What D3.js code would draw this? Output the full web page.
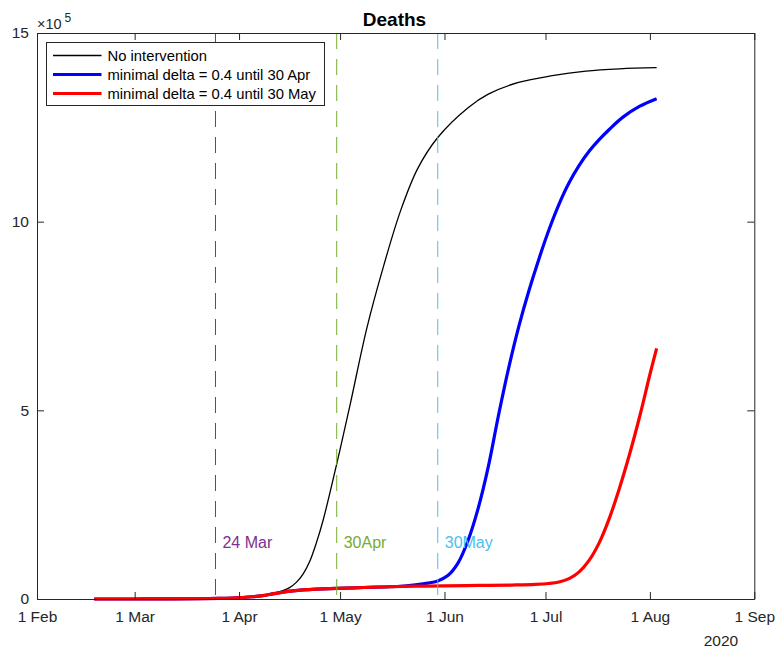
<!DOCTYPE html>
<html>
<head>
<meta charset="utf-8">
<script src="https://cdn.jsdelivr.net/npm/d3@7"></script>
<style>
  html, body { margin: 0; padding: 0; background: #ffffff; }
  svg { display: block; font-family: "Liberation Sans", Arial, Helvetica, sans-serif; }
</style>
</head>
<body>
<svg id="chart" width="778" height="648"></svg>
<script>
// ---------------- DATA (values in units of 10^5 deaths) ----------------
const xTickDates = ["2020-02-01","2020-03-01","2020-04-01","2020-05-01","2020-06-01","2020-07-01","2020-08-01","2020-09-01"];
const yTickValues = [0, 5, 10, 15];
const yExponentLabel = "5";
const yearLabel = "2020";
const chartTitle = "Deaths";

const seriesNames = ["No intervention", "minimal delta = 0.4 until 30 Apr", "minimal delta = 0.4 until 30 May"];
const seriesColors = ["#000000", "#0000ff", "#ff0000"];

const noInterventionDates = ["2020-02-18","2020-03-01","2020-03-12","2020-03-20","2020-03-26","2020-03-30","2020-04-02","2020-04-05","2020-04-08","2020-04-11","2020-04-14","2020-04-16","2020-04-18","2020-04-20","2020-04-22","2020-04-24","2020-04-26","2020-04-30","2020-05-04","2020-05-09","2020-05-14","2020-05-19","2020-05-24","2020-05-30","2020-06-08","2020-06-14","2020-06-23","2020-07-03","2020-07-13","2020-07-23","2020-08-03"];
const noInterventionValues = [0, 0.0005, 0.002, 0.006, 0.014, 0.025, 0.04, 0.06, 0.09, 0.15, 0.22, 0.3, 0.44, 0.66, 1.0, 1.5, 2.1, 3.58, 5.16, 7.2, 8.85, 10.3, 11.4, 12.23, 13.02, 13.38, 13.69, 13.87, 13.99, 14.05, 14.08];

const until30AprDates = ["2020-02-18","2020-03-01","2020-03-12","2020-03-20","2020-03-26","2020-03-30","2020-04-02","2020-04-05","2020-04-08","2020-04-11","2020-04-14","2020-04-17","2020-04-20","2020-04-24","2020-04-30","2020-05-08","2020-05-16","2020-05-20","2020-05-24","2020-05-27","2020-05-30","2020-06-02","2020-06-05","2020-06-08","2020-06-11","2020-06-14","2020-06-17","2020-06-20","2020-06-23","2020-06-26","2020-06-29","2020-07-02","2020-07-05","2020-07-08","2020-07-11","2020-07-14","2020-07-17","2020-07-20","2020-07-24","2020-07-29","2020-08-03"];
const until30AprValues = [0, 0.0005, 0.002, 0.006, 0.014, 0.025, 0.04, 0.06, 0.09, 0.135, 0.18, 0.215, 0.24, 0.26, 0.28, 0.305, 0.325, 0.345, 0.38, 0.42, 0.48, 0.62, 0.95, 1.55, 2.4, 3.5, 4.85, 6.1, 7.2, 8.15, 9.0, 9.78, 10.46, 11.03, 11.49, 11.87, 12.18, 12.45, 12.77, 13.06, 13.26];

const until30MayDates = ["2020-02-18","2020-03-01","2020-03-12","2020-03-20","2020-03-26","2020-03-30","2020-04-02","2020-04-05","2020-04-08","2020-04-11","2020-04-14","2020-04-17","2020-04-20","2020-04-24","2020-04-30","2020-05-08","2020-05-16","2020-05-24","2020-06-01","2020-06-11","2020-06-21","2020-06-28","2020-07-02","2020-07-05","2020-07-08","2020-07-11","2020-07-14","2020-07-17","2020-07-20","2020-07-23","2020-07-26","2020-07-29","2020-08-01","2020-08-03"];
const until30MayValues = [0, 0.0005, 0.002, 0.006, 0.014, 0.025, 0.04, 0.06, 0.09, 0.135, 0.18, 0.215, 0.24, 0.26, 0.28, 0.305, 0.325, 0.34, 0.35, 0.36, 0.37, 0.385, 0.41, 0.45, 0.54, 0.72, 1.03, 1.5, 2.15, 2.95, 3.85, 4.85, 5.95, 6.64];

const markerDates = ["2020-03-25", "2020-04-30", "2020-05-30"];
const markerLabels = ["24 Mar", "30Apr", "30May"];
const markerColors = ["#7e2f8e", "#77ac30", "#4dbeee"];
const markerLabelValue = 1.48;

// ---------------- LAYOUT ----------------
const parse = d3.timeParse("%Y-%m-%d");
const svg = d3.select("#chart");
const mLeft = 37, mRight = 754.3, mTop = 33, mBottom = 599;
const axisColor = "#262626";

const x = d3.scaleTime()
  .domain([parse(xTickDates[0]), parse(xTickDates[xTickDates.length - 1])])
  .range([mLeft, mRight]);
const y = d3.scaleLinear().domain([0, 15]).range([mBottom, mTop]);

svg.append("rect").attr("x", 0).attr("y", 0).attr("width", 778).attr("height", 648).attr("fill", "#fff");

// series
const lineGen = d3.line()
  .x(d => x(d[0]))
  .y(d => y(d[1]))
  .curve(d3.curveCatmullRom.alpha(0.5));

const series = [
  {dates: noInterventionDates, values: noInterventionValues, color: seriesColors[0], width: 1.3},
  {dates: until30AprDates, values: until30AprValues, color: seriesColors[1], width: 3.2},
  {dates: until30MayDates, values: until30MayValues, color: seriesColors[2], width: 3.2}
];
series.forEach(s => {
  const pts = s.dates.map((d, i) => [parse(d), s.values[i]]);
  svg.append("path")
    .attr("d", lineGen(pts))
    .attr("fill", "none")
    .attr("stroke", s.color)
    .attr("stroke-width", s.width)
    .attr("stroke-linejoin", "round");
});

// vertical dashed markers
markerDates.forEach((d, i) => {
  const xx = x(parse(d));
  svg.append("line")
    .attr("x1", xx).attr("x2", xx)
    .attr("y1", y(15)).attr("y2", y(0))
    .attr("stroke", markerColors[i])
    .attr("stroke-width", 1)
    .attr("stroke-dasharray", "16,10");
  svg.append("text")
    .attr("x", xx + 7)
    .attr("y", y(markerLabelValue) + 5)
    .attr("fill", markerColors[i])
    .attr("font-size", "16px")
    .text(markerLabels[i]);
});

// axes
const tickDates = xTickDates.map(parse);
const fmt = d3.timeFormat("%-d %b");
const tickLen = 7;

const gx = svg.append("g").attr("transform", `translate(0,${mBottom})`)
  .call(d3.axisBottom(x).tickValues(tickDates).tickFormat(fmt).tickSizeInner(-tickLen).tickSizeOuter(0).tickPadding(12));
const gxTop = svg.append("g").attr("transform", `translate(0,${mTop})`)
  .call(d3.axisTop(x).tickValues(tickDates).tickFormat("").tickSizeInner(-tickLen).tickSizeOuter(0));
const gy = svg.append("g").attr("transform", `translate(${mLeft},0)`)
  .call(d3.axisLeft(y).tickValues(yTickValues).tickFormat(d3.format("d")).tickSizeInner(-tickLen).tickSizeOuter(0).tickPadding(8));
const gyR = svg.append("g").attr("transform", `translate(${mRight},0)`)
  .call(d3.axisRight(y).tickValues(yTickValues).tickFormat("").tickSizeInner(-tickLen).tickSizeOuter(0));

[gx, gxTop, gy, gyR].forEach(g => {
  g.select(".domain").attr("stroke", axisColor).attr("stroke-width", 1);
  g.selectAll(".tick line").attr("stroke", axisColor).attr("stroke-width", 1);
  g.selectAll(".tick text").attr("fill", axisColor).attr("font-size", "15.5px")
    .attr("font-family", "'Liberation Sans', Arial, sans-serif");
});

// year label
svg.append("text").attr("x", 721).attr("y", 646).attr("text-anchor", "middle")
  .attr("fill", axisColor).attr("font-size", "15.5px").text(yearLabel);

// exponent label
const ex = svg.append("text").attr("x", 37).attr("y", 29).attr("fill", axisColor).attr("font-size", "14.5px");
ex.append("tspan").text("\u00d710");
ex.append("tspan").attr("dx", 3).attr("dy", -7).attr("font-size", "12px").text(yExponentLabel);

// title
svg.append("text").attr("x", 394.5).attr("y", 26).attr("text-anchor", "middle")
  .attr("font-weight", "bold").attr("font-size", "19px").attr("fill", "#000").text(chartTitle);

// legend
const lg = svg.append("g");
lg.append("rect").attr("x", 46.5).attr("y", 42.5).attr("width", 278).attr("height", 63)
  .attr("fill", "#fff").attr("stroke", axisColor).attr("stroke-width", 1);
series.forEach((s, i) => {
  const cy = 55.5 + i * 19;
  lg.append("line").attr("x1", 53).attr("x2", 101.5).attr("y1", cy).attr("y2", cy)
    .attr("stroke", s.color).attr("stroke-width", s.width);
  lg.append("text").attr("x", 107.5).attr("y", cy + 5.2).attr("font-size", "14.8px")
    .attr("fill", "#000").text(seriesNames[i]);
});
</script>
</body>
</html>
